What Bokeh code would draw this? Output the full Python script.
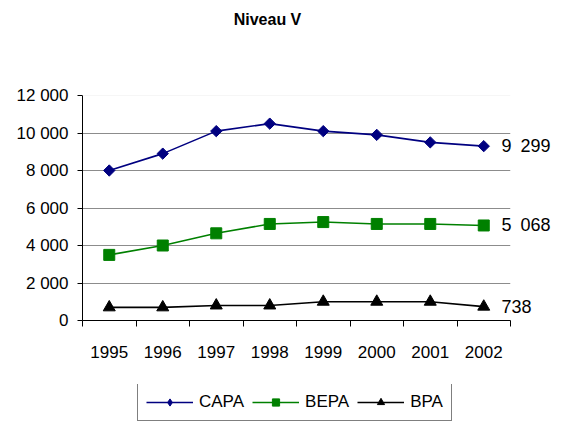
import math
from bokeh.plotting import figure
from bokeh.models import (Range1d, FixedTicker, CustomJSTickFormatter, Legend, LegendItem,
                          Span, LinearAxis, Label)
from bokeh.layouts import column
from bokeh.embed import file_html
from bokeh.resources import INLINE

years = [1995, 1996, 1997, 1998, 1999, 2000, 2001, 2002]
capa = [8000, 8900, 10100, 10500, 10100, 9900, 9500, 9299]
bepa = [3500, 4000, 4650, 5150, 5250, 5150, 5150, 5068]
bpa = [700, 700, 800, 800, 1000, 1000, 1000, 738]
y_ticks = [0, 2000, 4000, 6000, 8000, 10000, 12000]
title_text = "Niveau V"

FONT = "Liberation Sans"
SEP_JS = "return tick.toFixed(0).replace(/\\B(?=(\\d{3})+(?!\\d))/g, ' ');"
SEP_JS_WIDE = "return tick.toFixed(0).replace(/\\B(?=(\\d{3})+(?!\\d))/g, '\\u2002');"


def strip(h):
    f = figure(width=553, height=h, output_backend="svg", toolbar_location=None,
               x_range=Range1d(0, 1), y_range=Range1d(0, 1),
               min_border=0, min_border_left=0, min_border_right=0,
               min_border_top=0, min_border_bottom=0)
    f.axis.visible = False
    f.grid.visible = False
    f.outline_line_color = None
    f.border_fill_color = "white"
    return f


# title strip
tf = strip(40)
tf.add_layout(Label(x=185, y=21, x_units="screen", y_units="screen", text=title_text,
                    text_align="center", text_baseline="middle",
                    text_font=FONT, text_font_size="16px", text_font_style="bold",
                    text_color="black"))

p = figure(width=553, height=344, output_backend="svg", toolbar_location=None,
           x_range=Range1d(years[0] - 0.5, years[-1] + 0.5),
           y_range=Range1d(y_ticks[0], y_ticks[-1]),
           min_border_left=82, min_border_right=43, min_border_top=55, min_border_bottom=64)
p.outline_line_color = None
p.background_fill_color = "white"
p.border_fill_color = "white"

# x axis: labels at centres, ticks at boundaries
xa = p.xaxis[0]
xa.ticker = FixedTicker(ticks=years, minor_ticks=[y - 0.5 for y in years] + [years[-1] + 0.5])
xa.major_tick_line_color = None
xa.major_tick_out = 0
xa.major_tick_in = 0
xa.minor_tick_out = 6
xa.minor_tick_in = 0
xa.minor_tick_line_color = "black"
xa.axis_line_color = "black"
xa.major_label_standoff = 19
xa.major_label_text_font = FONT
xa.major_label_text_font_size = "17px"
xa.major_label_text_color = "black"

ya = p.yaxis[0]
ya.ticker = FixedTicker(ticks=y_ticks)
ya.formatter = CustomJSTickFormatter(code=SEP_JS)
ya.minor_tick_line_color = None
ya.major_tick_out = 5
ya.major_tick_in = 0
ya.axis_line_color = "black"
ya.major_tick_line_color = "black"
ya.major_label_standoff = 9
ya.major_label_text_font = FONT
ya.major_label_text_font_size = "17px"
ya.major_label_text_color = "black"

p.xgrid.grid_line_color = None
p.ygrid.ticker = FixedTicker(ticks=y_ticks[1:-1])
p.ygrid.grid_line_color = "#8c8c8c"
p.add_layout(Span(location=y_ticks[-1], dimension="width", line_color="#eeeeee", line_width=1))

# name, values, colour, marker, size, angle, legend marker, legend size
series = [
    ("CAPA", capa, "#000080", "square", 8, math.pi / 4, "diamond", 11),
    ("BEPA", bepa, "#008000", "square", 11, 0, "square", 9),
    ("BPA", bpa, "black", "triangle", 12, 0, "triangle", 10),
]
for name, vals, col, mk, sz, ang, lmk, lsz in series:
    p.line(years, vals, line_color=col, line_width=1.6)
    p.scatter(years, vals, marker=mk, size=sz, angle=ang, fill_color=col, line_color=col)

# end-of-series value labels as a right axis
last_vals = [s[1][-1] for s in series]
ra = LinearAxis(ticker=FixedTicker(ticks=last_vals), formatter=CustomJSTickFormatter(code=SEP_JS_WIDE),
                axis_line_color=None, major_tick_line_color=None, minor_tick_line_color=None,
                major_tick_out=0, major_tick_in=0, major_label_standoff=-9,
                major_label_text_font=FONT, major_label_text_font_size="18px",
                major_label_text_color="black")
p.add_layout(ra, "right")

# legend in its own strip below (renderers there are off-range, only their styles are used)
lf = strip(38)
items = []
for name, vals, col, mk, sz, ang, lmk, lsz in series:
    l = lf.line(years, vals, line_color=col, line_width=1.6)
    m = lf.scatter(years, vals, marker=lmk, size=lsz, fill_color=col, line_color=col)
    items.append(LegendItem(label=name, renderers=[l, m]))
legend = Legend(items=items, orientation="horizontal", location=(55, 1),
                border_line_color="black", border_line_width=1,
                glyph_width=47, glyph_height=18, label_standoff=6, spacing=8,
                padding=8, margin=0, background_fill_color="white",
                label_text_font=FONT, label_text_font_size="17px", label_text_color="black")
lf.add_layout(legend, "center")

layout = column(tf, p, lf, spacing=0)
open("out.html", "w").write(file_html(layout, INLINE))
